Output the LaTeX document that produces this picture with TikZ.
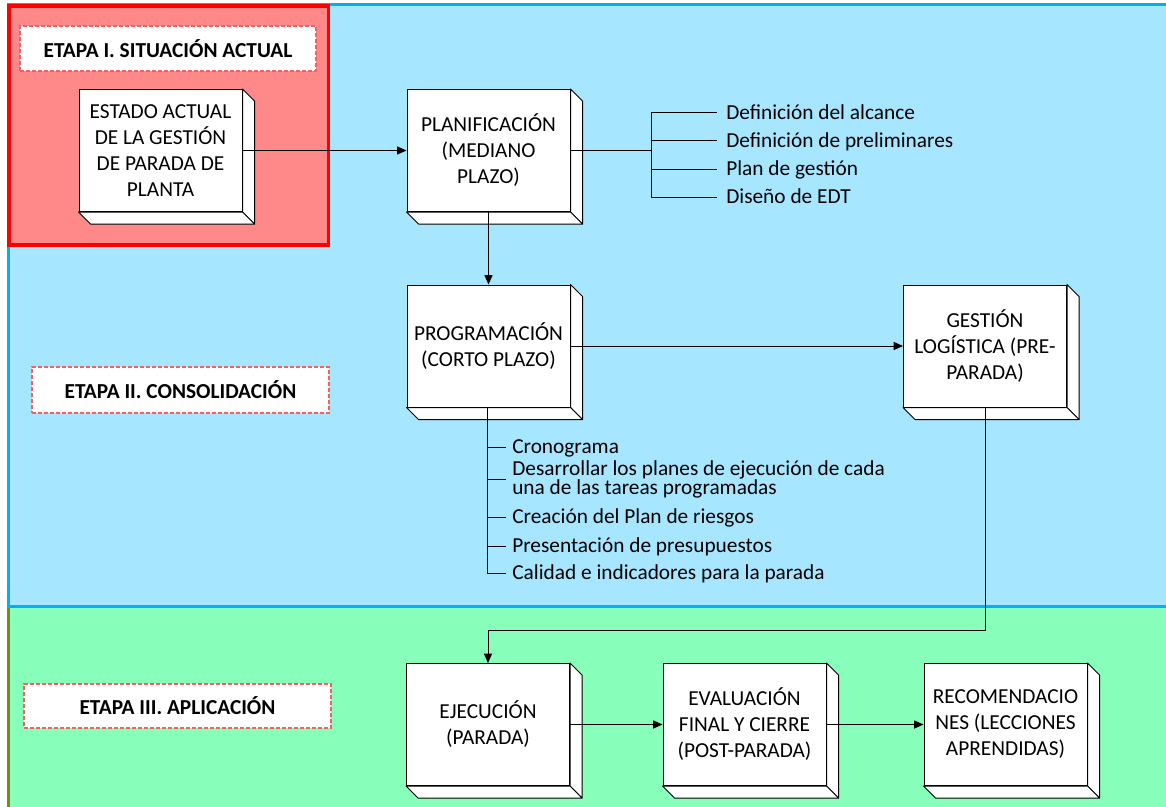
\documentclass[tikz,border=0pt]{standalone}
\usepackage{fontspec}
\setmainfont{Carlito}
\usetikzlibrary{arrows.meta,calc}
\definecolor{bluefill}{RGB}{167,230,255}
\definecolor{blueline}{RGB}{0,176,240}
\definecolor{redfill}{RGB}{255,137,137}
\definecolor{redline}{RGB}{255,0,0}
\definecolor{greenfill}{RGB}{135,255,186}
\definecolor{oliveline}{RGB}{110,145,20}
\definecolor{dashred}{RGB}{245,95,95}
\begin{document}
\begin{tikzpicture}[x=0.75pt,y=-0.75pt,
  cube/.style={draw=black,fill=white,line width=0.75pt,minimum width=122.25pt,minimum height=91.5pt,
    align=center,font=\fontsize{16}{19.5}\selectfont,inner sep=0pt},
  etapa/.style={draw=dashred,dash pattern=on 3pt off 1.5pt,fill=white,line width=0.9pt,
    font=\fontsize{16}{19.5}\selectfont\bfseries,inner sep=0pt},
  conn/.style={line width=0.75pt},
  arr/.style={conn,-{Triangle[length=7pt,width=6pt]}},
  item/.style={anchor=west,font=\fontsize{16}{19.5}\selectfont,inner ysep=0pt,inner xsep=4.5pt,
    text height=12pt,text depth=2.5pt},
  itemb/.style={item,inner xsep=6.75pt}
]
\useasboundingbox (0,0) rectangle (1166,806);
\clip (0,0) rectangle (1166,806);
% background regions
\fill[white] (0,0) rectangle (1166,806);
\draw[fill=greenfill,draw=oliveline,line width=2.25pt] (8.5,606) rectangle (1180,820);
\draw[fill=bluefill,draw=blueline,line width=2.25pt] (8.5,5) rectangle (1180,606);
\draw[fill=redfill,draw=redline,line width=2.6pt] (9,6) rectangle (328.5,245);

% stage labels
\node[etapa,minimum width=222pt,minimum height=33.75pt] (e1) at (168,48.5) {ETAPA I. SITUACIÓN ACTUAL};
\node[etapa,minimum width=222.75pt,minimum height=34.5pt] (e2) at (180.5,390) {ETAPA II. CONSOLIDACIÓN};
\node[etapa,minimum width=230.25pt,minimum height=33pt] (e3) at (177.5,706) {ETAPA III. APLICACIÓN};

% boxes
\node[cube] (est)  at (160.5,150.5) {ESTADO ACTUAL\\DE LA GESTIÓN\\DE PARADA DE\\PLANTA};
\node[cube] (plan) at (488.5,150.5) {PLANIFICACIÓN\\(MEDIANO\\PLAZO)};
\node[cube] (prog) at (488.5,346) {PROGRAMACIÓN\\(CORTO PLAZO)};
\node[cube] (gest) at (985,346) {GESTIÓN\\LOGÍSTICA (PRE-\\PARADA)};
\node[cube] (ejec) at (488,724.5) {EJECUCIÓN\\(PARADA)};
\node[cube] (eval) at (744.5,724.5) {EVALUACIÓN\\FINAL Y CIERRE\\(POST-PARADA)};
\node[cube] (rec)  at (1005.5,724.5) {RECOMENDACIO\\NES (LECCIONES\\APRENDIDAS)};

\foreach \n in {est,plan,prog,gest,ejec,eval,rec}{
  \draw[fill=white,line width=0.75pt,line join=round] (\n.north east) -- ++(12,12) -- ($(\n.south east)+(12,12)$) -- (\n.south east) -- cycle;
  \draw[fill=white,line width=0.75pt,line join=round] (\n.south west) -- ++(12,12) -- ($(\n.south east)+(12,12)$) -- (\n.south east) -- cycle;
}

% planificacion items
\node[itemb] (d1) at (717,113) {Definición del alcance};
\node[itemb] (d2) at (717,141) {Definición de preliminares};
\node[itemb] (d3) at (717,169) {Plan de gestión};
\node[itemb] (d4) at (717,197) {Diseño de EDT};
\coordinate (pb) at (651,150.5);
\draw[line width=1.3pt] (plan.east) -- (pb);
\draw[conn] (pb |- d1.west) -- (pb |- d4.west);
\foreach \d in {d1,d2,d3,d4}{\draw[conn] (pb |- \d.west) -- (\d.west);}

% programacion items
\node[item] (p1) at (506,447) {Cronograma};
\node[anchor=west,font=\fontsize{16}{13.5}\selectfont,inner ysep=0pt,inner xsep=4.5pt,align=left] (p2) at (506,479.5)
  {Desarrollar los planes de ejecución de cada\\una de las tareas programadas};
\node[item] (p3) at (506,517) {Creación del Plan de riesgos};
\node[item] (p4) at (506,546) {Presentación de presupuestos};
\node[item] (p5) at (506,573.5) {Calidad e indicadores para la parada};
\coordinate (pv) at (487,407);
\draw[conn] (pv) -- (pv |- p5.west) -- (p5.west);
\foreach \p in {p1,p2,p3,p4}{\draw[conn] (pv |- \p.west) -- (\p.west);}

% connectors
\coordinate (turn) at (986,630.5);
\draw[arr] (est.east) -- (plan.west);
\draw[arr] (plan.south) -- (prog.north);
\draw[arr] (prog.east) -- (gest.west);
\draw[arr] (gest.south) -- (gest.south |- turn) -| (ejec.north);
\draw[arr] (ejec.east) -- (eval.west);
\draw[arr] (eval.east) -- (rec.west);
\end{tikzpicture}
\end{document}
